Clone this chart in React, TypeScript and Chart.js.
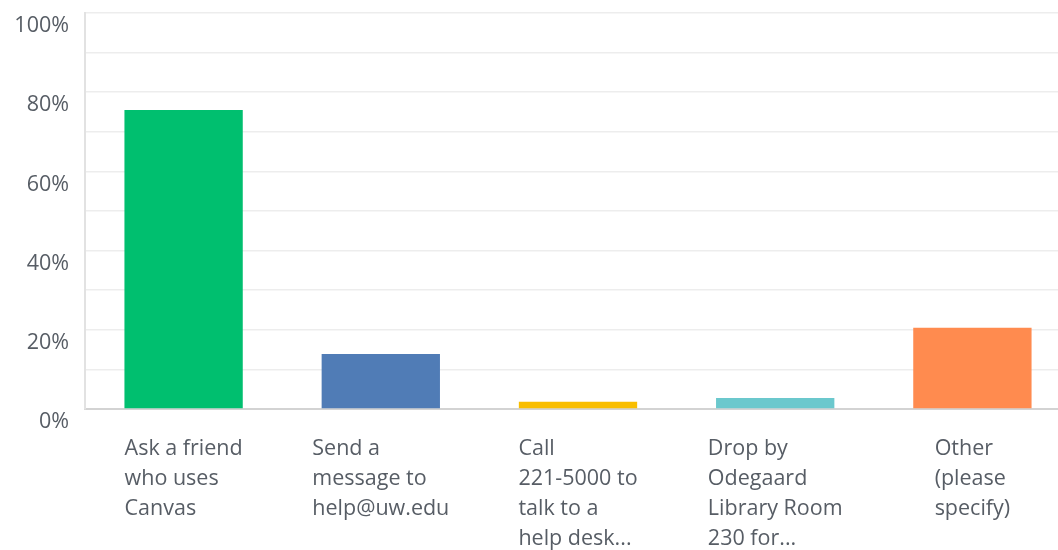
import React, { useEffect, useRef } from "react";
import { Chart, registerables } from "chart.js";

Chart.register(...registerables);

const categories: string[][] = [
  ["Ask a friend", "who uses", "Canvas"],
  ["Send a", "message to", "help@uw.edu"],
  ["Call", "221-5000 to", "talk to a", "help desk..."],
  ["Drop by", "Odegaard", "Library Room", "230 for..."],
  ["Other", "(please", "specify)"],
];
const values: number[] = [75.5, 13.9, 1.8, 2.8, 20.5];
const barColors: string[] = ["#00bf6f", "#507cb6", "#f9be00", "#6bc8cd", "#ff8b4f"];
const yTickLabels: Record<number, string> = { 0: "0%", 20: "20%", 40: "40%", 60: "60%", 80: "80%", 100: "100%" };

const FONT = "'Open Sans', sans-serif";
const TEXT = "#575d65";

const labelPlugin = {
  id: "blockLabels",
  afterDraw(chart: any) {
    const xs = chart.scales.x;
    const ctx = chart.ctx;
    ctx.save();
    ctx.font = `21.5px ${FONT}`;
    ctx.fillStyle = TEXT;
    ctx.textAlign = "left";
    ctx.textBaseline = "middle";
    categories.forEach((lines, i) => {
      const maxW = Math.max(...lines.map((l) => ctx.measureText(l).width));
      const x0 = xs.getPixelForValue(i) - maxW / 2;
      lines.forEach((l, j) => ctx.fillText(l, x0, xs.top + 40 + j * 30));
    });
    ctx.restore();
  },
};

export default function App() {
  const ref = useRef<HTMLCanvasElement>(null);
  useEffect(() => {
    if (!ref.current) return;
    const chart = new Chart(ref.current, {
      type: "bar",
      data: {
        labels: categories.map((c) => c.join(" ")),
        datasets: [
          {
            data: values,
            backgroundColor: barColors,
            barPercentage: 0.6,
            categoryPercentage: 1,
          },
        ],
      },
      options: {
        responsive: false,
        animation: false,
        layout: { padding: { left: 0, right: 1, top: 0, bottom: 0 } },
        plugins: { legend: { display: false }, tooltip: { enabled: false } },
        scales: {
          x: {
            grid: { display: false },
            border: { display: true, color: "#d3d3d3", width: 2 },
            ticks: { display: false },
            afterFit: (s: any) => {
              s.height = 141;
            },
          },
          y: {
            min: 0,
            max: 100,
            afterFit: (s: any) => {
              s.width = 85;
              s.paddingTop = 13;
            },
            grid: { color: "#ededed", lineWidth: 1.5, drawTicks: false },
            border: { display: true, color: "#e2e2e2", width: 2 },
            ticks: {
              stepSize: 10,
              padding: 16,
              labelOffset: 13,
              color: TEXT,
              font: { family: FONT, size: 21.5 },
              callback: (v: any) => yTickLabels[v] ?? "",
            },
          },
        },
      },
      plugins: [labelPlugin],
    });
    return () => chart.destroy();
  }, []);
  return (
    <div style={{ position: "fixed", left: 0, top: 0, width: 1058, height: 550, overflow: "hidden", background: "#fff" }}>
      <canvas ref={ref} width={1072} height={550} style={{ width: 1072, height: 550 }} />
    </div>
  );
}
